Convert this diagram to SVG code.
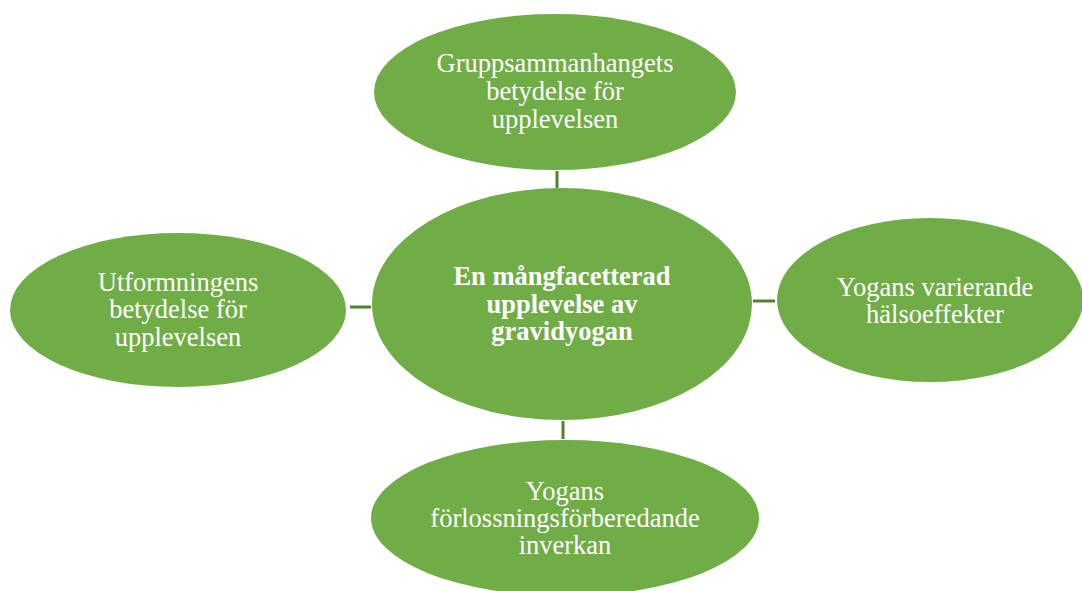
<svg xmlns="http://www.w3.org/2000/svg" width="1082" height="591" viewBox="0 0 1082 591">
<style>
.n{fill:#70AD47;}
.c{stroke:#548235;stroke-width:3;fill:none;}
text{font-family:"Liberation Serif","Times New Roman",serif;font-size:26.5px;fill:#fff;text-anchor:middle;}
.b{font-weight:bold;}
</style>
<rect width="1082" height="591" fill="#fff"/>
<g id="connectors">
<line class="c" x1="557" y1="171" x2="557" y2="188"/>
<line class="c" x1="350" y1="307" x2="371" y2="307"/>
<line class="c" x1="753" y1="301" x2="775" y2="301"/>
<line class="c" x1="563" y1="421" x2="563" y2="439"/>
</g>
<g id="center">
<ellipse class="n" cx="562" cy="304" rx="190" ry="116"/>
<text class="b" x="562" y="285">En mångfacetterad</text>
<text class="b" x="562" y="313">upplevelse av</text>
<text class="b" x="562" y="340">gravidyogan</text>
</g>
<g id="top">
<ellipse class="n" cx="555" cy="92" rx="181" ry="78"/>
<text x="555" y="72">Gruppsammanhangets</text>
<text x="555" y="100">betydelse för</text>
<text x="555" y="128">upplevelsen</text>
</g>
<g id="left">
<ellipse class="n" cx="178" cy="310" rx="168" ry="77"/>
<text x="178" y="291">Utformningens</text>
<text x="178" y="318">betydelse för</text>
<text x="178" y="346">upplevelsen</text>
</g>
<g id="right">
<ellipse class="n" cx="930" cy="300" rx="153" ry="82"/>
<text x="935" y="296">Yogans varierande</text>
<text x="935" y="323">hälsoeffekter</text>
</g>
<g id="bottom">
<ellipse class="n" cx="565" cy="518" rx="194" ry="78"/>
<text x="565" y="500">Yogans</text>
<text x="565" y="527">förlossningsförberedande</text>
<text x="565" y="554">inverkan</text>
</g>
</svg>
